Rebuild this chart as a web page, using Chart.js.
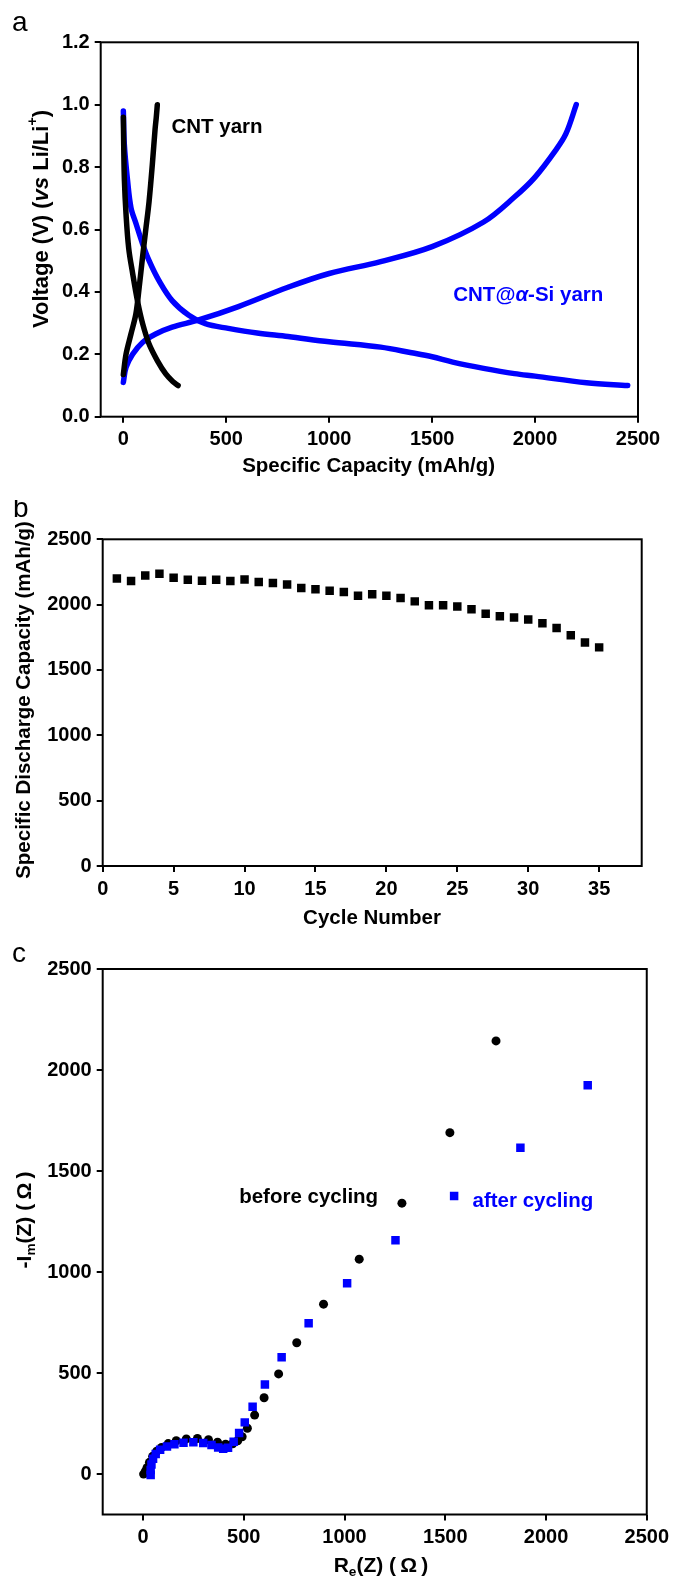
<!DOCTYPE html>
<html>
<head>
<meta charset="utf-8">
<script src="https://cdn.jsdelivr.net/npm/chart.js@4.4.1/dist/chart.umd.min.js"></script>
<style>
  body { margin: 0; background: #fff; width: 674px; height: 1580px; position: relative; }
  canvas { position: absolute; left: 0; }
</style>
</head>
<body>
<canvas id="chartA" width="674" height="500" style="top:0px"></canvas>
<canvas id="chartB" width="674" height="440" style="top:500px"></canvas>
<canvas id="chartC" width="674" height="640" style="top:940px"></canvas>
<script>
// ---- panel a : charge / discharge curves (mAh/g, V)
const cntDisCap = [0, 2, 5, 13, 26, 45, 69, 93, 125, 165, 206, 240, 266];
const cntDisV = [0.96, 0.86, 0.76, 0.65, 0.54, 0.46, 0.37, 0.30, 0.233, 0.18, 0.137, 0.113, 0.10];
const cntChCap = [0, 13, 37, 61, 77, 93, 109, 125, 141, 154, 160, 165];
const cntChV = [0.135, 0.20, 0.265, 0.33, 0.415, 0.51, 0.60, 0.69, 0.81, 0.92, 0.96, 1.0];
const siDisCap = [0, 5, 20, 37, 61, 93, 125, 173, 237, 318, 398, 510, 650, 800, 1000, 1250, 1400, 1500, 1600, 1750, 1900, 2000, 2250, 2450];
const siDisV = [0.98, 0.87, 0.76, 0.67, 0.62, 0.555, 0.50, 0.436, 0.372, 0.325, 0.298, 0.283, 0.268, 0.257, 0.24, 0.223, 0.205, 0.192, 0.175, 0.155, 0.138, 0.13, 0.109, 0.10];
const siChCap = [0, 13, 45, 93, 157, 237, 366, 559, 800, 1000, 1250, 1500, 1750, 1900, 2000, 2100, 2150, 2200];
const siChV = [0.11, 0.158, 0.20, 0.238, 0.265, 0.287, 0.31, 0.353, 0.415, 0.459, 0.497, 0.545, 0.624, 0.704, 0.768, 0.854, 0.907, 1.0];
const capTicks = [0, 500, 1000, 1500, 2000, 2500];
const voltTicks = [0, 0.2, 0.4, 0.6, 0.8, 1.0, 1.2];

// ---- panel b : cycling
const cycles = [1, 2, 3, 4, 5, 6, 7, 8, 9, 10, 11, 12, 13, 14, 15, 16, 17, 18, 19, 20, 21, 22, 23, 24, 25, 26, 27, 28, 29, 30, 31, 32, 33, 34, 35];
const dischargeCap = [2200, 2180, 2223, 2236, 2206, 2190, 2183, 2190, 2180, 2193, 2173, 2165, 2155, 2127, 2117, 2107, 2096, 2068, 2079, 2068, 2051, 2025, 1995, 1995, 1985, 1964, 1931, 1911, 1901, 1886, 1858, 1822, 1766, 1711, 1673];
const cycleTicks = [0, 5, 10, 15, 20, 25, 30, 35];
const capacityTicks = [0, 500, 1000, 1500, 2000, 2500];

// ---- panel c : impedance
const beforeRe = [3, 12, 20, 32, 48, 68, 92, 125, 165, 215, 270, 325, 370, 410, 445, 470, 492, 518, 554, 601, 673, 763, 896, 1073, 1285, 1523, 1752];
const beforeIm = [0, 15, 32, 58, 88, 113, 132, 151, 165, 174, 176, 170, 158, 148, 150, 165, 185, 227, 292, 378, 496, 650, 841, 1064, 1341, 1690, 2144];
const afterRe = [38, 38, 42, 50, 63, 85, 119, 156, 201, 250, 299, 340, 373, 398, 422, 450, 477, 505, 544, 605, 688, 822, 1013, 1253, 1544, 1873, 2207];
const afterIm = [-5, 20, 48, 76, 100, 120, 136, 148, 155, 158, 154, 144, 132, 126, 130, 160, 203, 256, 333, 443, 578, 747, 945, 1157, 1376, 1615, 1925];
const zTicks = [0, 500, 1000, 1500, 2000, 2500];

const BLUE = '#0000ff';
const FONT = '"Liberation Sans", Arial, sans-serif';
Chart.defaults.font.family = FONT;
Chart.defaults.color = '#000';

const pts = (xs, ys) => xs.map((x, i) => ({ x: x, y: ys[i] }));

// text with italic / sub / superscript pieces
function richText(ctx, parts, x, y, size, color, rotate) {
    ctx.save();
    ctx.translate(x, y);
    if (rotate) ctx.rotate(-Math.PI / 2);
    ctx.fillStyle = color;
    ctx.textBaseline = 'middle';
    ctx.textAlign = 'left';
    let fontOf = p => (p.italic ? 'italic ' : '') + 'bold ' + ((p.sub || p.sup) ? size * 0.65 : size) + 'px ' + FONT;
    let total = 0;
    parts.forEach(p => { ctx.font = fontOf(p); total += ctx.measureText(p.t).width; });
    let cx = -total / 2;
    parts.forEach(p => {
        ctx.font = fontOf(p);
        let dy = p.sub ? size * 0.32 : (p.sup ? -size * 0.38 : 0);
        ctx.fillText(p.t, cx, dy);
        cx += ctx.measureText(p.t).width;
    });
    ctx.restore();
}

function decor(cfg) {
    return {
        id: 'decor',
        afterDraw(chart) {
            const { ctx, chartArea: a, scales } = chart;
            ctx.save();
            ctx.strokeStyle = '#000';
            ctx.lineWidth = 2;
            ctx.strokeRect(a.left, a.top, a.right - a.left, a.bottom - a.top);
            ctx.fillStyle = '#000';
            ctx.font = '28px ' + FONT;
            ctx.textAlign = 'left';
            ctx.textBaseline = 'alphabetic';
            ctx.fillText(cfg.letter[0], cfg.letter[1], cfg.letter[2]);
            ctx.restore();
            richText(ctx, cfg.xTitle, cfg.xTitleAt[0], cfg.xTitleAt[1], cfg.xTitleAt[2], '#000', false);
            richText(ctx, cfg.yTitle, cfg.yTitleAt[0], cfg.yTitleAt[1], cfg.yTitleAt[2], '#000', true);
            (cfg.notes || []).forEach(n => {
                richText(ctx, n.parts, scales.x.getPixelForValue(n.x), scales.y.getPixelForValue(n.y), 20.5, n.color, false);
            });
        }
    };
}

function axis(min, max, ticks, fmt, fit) {
    return {
        type: 'linear',
        min: min,
        max: max,
        afterBuildTicks: s => { s.ticks = ticks.map(v => ({ value: v })); },
        afterFit: fit,
        border: { display: false },
        grid: { drawOnChartArea: false, drawTicks: true, tickLength: 6, lineWidth: 2, color: '#000' },
        ticks: {
            color: '#000',
            font: { size: 20, weight: 'bold' },
            padding: 5,
            maxRotation: 0,
            autoSkip: false,
            callback: fmt
        }
    };
}

const baseOptions = (pad, scales) => ({
    responsive: false,
    animation: false,
    layout: { padding: pad },
    plugins: { legend: { display: false }, tooltip: { enabled: false } },
    scales: scales
});

// panel a
new Chart(document.getElementById('chartA'), {
    type: 'scatter',
    data: {
        datasets: [
            { data: pts(cntDisCap, cntDisV), borderColor: '#000', order: 0 },
            { data: pts(cntChCap, cntChV), borderColor: '#000', order: 1 },
            { data: pts(siDisCap, siDisV), borderColor: BLUE, order: 2 },
            { data: pts(siChCap, siChV), borderColor: BLUE, order: 3 }
        ].map(d => Object.assign(d, { showLine: true, pointRadius: 0, borderWidth: 5.5, tension: 0.35, borderCapStyle: 'round' }))
    },
    options: baseOptions({ top: 42.3, right: 36, left: 0, bottom: 0 }, {
        x: axis(-110, 2500, capTicks, v => v, s => { s.height = 83.3; }),
        y: axis(0, 1.2, voltTicks, v => v.toFixed(1), s => { s.width = 100.7; })
    }),
    plugins: [decor({
        letter: ['a', 12, 31],
        xTitle: [{ t: 'Specific Capacity (mAh/g)' }],
        xTitleAt: [368.6, 466.7, 20.5],
        yTitle: [{ t: 'Voltage (V) (' }, { t: 'vs', italic: true }, { t: ' Li/Li' }, { t: '+', sup: true }, { t: ')' }],
        yTitleAt: [41.5, 219, 22],
        notes: [
            { parts: [{ t: 'CNT yarn' }], x: 455, y: 0.926, color: '#000' },
            { parts: [{ t: 'CNT@' }, { t: 'α', italic: true }, { t: '-Si yarn' }], x: 1967, y: 0.39, color: BLUE }
        ]
    })]
});

// panel b
new Chart(document.getElementById('chartB'), {
    type: 'scatter',
    data: {
        datasets: [{
            data: pts(cycles, dischargeCap),
            pointStyle: 'rect',
            pointRadius: 6,
            backgroundColor: '#000',
            borderWidth: 0
        }]
    },
    options: baseOptions({ top: 39.3, right: 32.3, left: 0, bottom: 0 }, {
        x: axis(0, 38, cycleTicks, v => v, s => { s.height = 74; }),
        y: axis(0, 2500, capacityTicks, v => v, s => { s.width = 102.7; })
    }),
    plugins: [decor({
        letter: ['b', 13, 17],
        xTitle: [{ t: 'Cycle Number' }],
        xTitleAt: [372, 418, 20.5],
        yTitle: [{ t: 'Specific Discharge Capacity (mAh/g)' }],
        yTitleAt: [24, 200, 20.5]
    })]
});

// panel c
new Chart(document.getElementById('chartC'), {
    type: 'scatter',
    data: {
        datasets: [
            { data: pts(afterRe, afterIm), pointStyle: 'rect', pointRadius: 6, backgroundColor: BLUE, borderWidth: 0, order: 0 },
            { data: pts(beforeRe, beforeIm), pointStyle: 'circle', pointRadius: 4.5, backgroundColor: '#000', borderWidth: 0, order: 1 }
        ]
    },
    options: baseOptions({ top: 29, right: 25, left: 0, bottom: 0 }, {
        x: axis(-200, 2500, zTicks, v => v, s => { s.height = 65.5; }),
        y: axis(-200, 2500, zTicks, v => v, s => { s.width = 102.7; })
    }),
    plugins: [decor({
        letter: ['c', 12, 22],
        xTitle: [{ t: 'R' }, { t: 'e', sub: true }, { t: '(Z) (\u2009Ω\u2009)' }],
        xTitleAt: [381, 626, 21],
        yTitle: [{ t: '-I' }, { t: 'm', sub: true }, { t: '(Z) (\u2009Ω\u2009)' }],
        yTitleAt: [25, 280, 21],
        notes: [
            { parts: [{ t: 'before cycling' }], x: 822, y: 1368, color: '#000' },
            { parts: [{ t: 'after cycling' }], x: 1935, y: 1348, color: BLUE }
        ]
    })]
});
</script>
</body>
</html>
